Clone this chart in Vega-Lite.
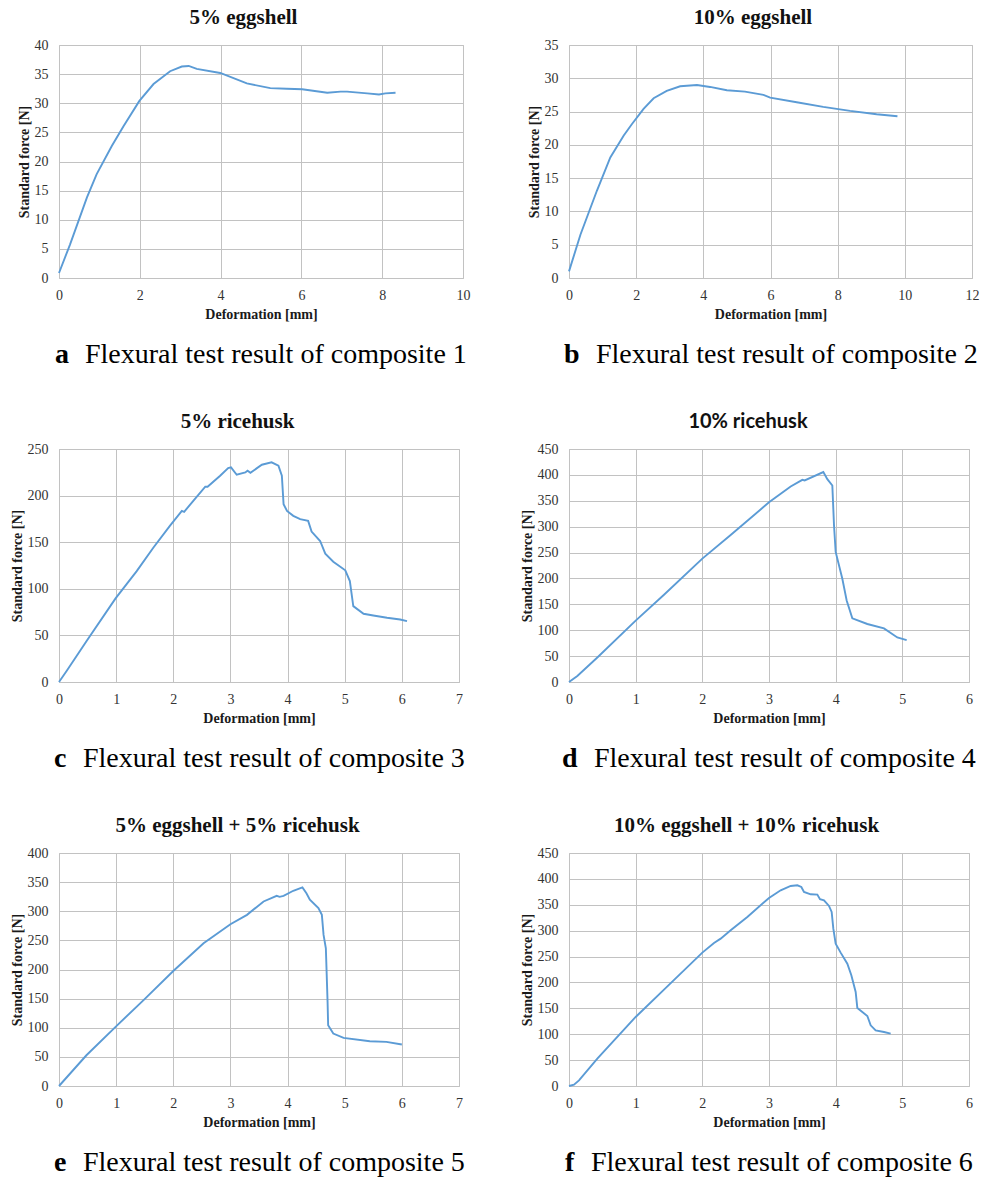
{
  "$schema": "https://vega.github.io/schema/vega-lite/v6.json",
  "background": "white",
  "padding": {"left": 9, "top": 6, "right": 5, "bottom": 5},
  "datasets": {
    "c1": [
      {"deformation": 0, "force": 0.86}, {"deformation": 0.27, "force": 5.7}, {"deformation": 0.69, "force": 13.8},
      {"deformation": 0.93, "force": 17.8}, {"deformation": 1.31, "force": 22.7}, {"deformation": 1.6, "force": 26.1},
      {"deformation": 1.99, "force": 30.4}, {"deformation": 2.34, "force": 33.3}, {"deformation": 2.75, "force": 35.5},
      {"deformation": 3.04, "force": 36.3}, {"deformation": 3.21, "force": 36.4}, {"deformation": 3.41, "force": 35.9},
      {"deformation": 3.99, "force": 35.2}, {"deformation": 4.65, "force": 33.4}, {"deformation": 5.23, "force": 32.6},
      {"deformation": 5.64, "force": 32.5}, {"deformation": 6.02, "force": 32.4}, {"deformation": 6.64, "force": 31.8},
      {"deformation": 6.97, "force": 32.0}, {"deformation": 7.13, "force": 32.0}, {"deformation": 7.63, "force": 31.7},
      {"deformation": 7.92, "force": 31.5}, {"deformation": 8.08, "force": 31.7}, {"deformation": 8.33, "force": 31.8}
    ],
    "c2": [
      {"deformation": 0, "force": 1.0}, {"deformation": 0.34, "force": 6.5}, {"deformation": 0.83, "force": 13.1},
      {"deformation": 1.23, "force": 18.1}, {"deformation": 1.63, "force": 21.4}, {"deformation": 1.87, "force": 23.1},
      {"deformation": 2.22, "force": 25.4}, {"deformation": 2.52, "force": 27.0}, {"deformation": 2.91, "force": 28.1},
      {"deformation": 3.31, "force": 28.8}, {"deformation": 3.81, "force": 29.0}, {"deformation": 4.2, "force": 28.7},
      {"deformation": 4.7, "force": 28.2}, {"deformation": 5.24, "force": 28.0}, {"deformation": 5.79, "force": 27.5},
      {"deformation": 5.99, "force": 27.1}, {"deformation": 6.78, "force": 26.4}, {"deformation": 7.57, "force": 25.7},
      {"deformation": 8.37, "force": 25.1}, {"deformation": 9.16, "force": 24.6}, {"deformation": 9.78, "force": 24.3}
    ],
    "c3": [
      {"deformation": 0, "force": 0}, {"deformation": 0.13, "force": 11.5}, {"deformation": 0.48, "force": 43.8},
      {"deformation": 0.99, "force": 89.7}, {"deformation": 1.36, "force": 119}, {"deformation": 1.65, "force": 144},
      {"deformation": 1.94, "force": 167.5}, {"deformation": 2.15, "force": 183.6}, {"deformation": 2.19, "force": 182.6},
      {"deformation": 2.35, "force": 194.4}, {"deformation": 2.56, "force": 209.5}, {"deformation": 2.6, "force": 209.5},
      {"deformation": 2.82, "force": 221.3}, {"deformation": 2.96, "force": 229.6}, {"deformation": 3.01, "force": 230.3},
      {"deformation": 3.11, "force": 222.4}, {"deformation": 3.26, "force": 224.9}, {"deformation": 3.3, "force": 226.7},
      {"deformation": 3.35, "force": 224.5}, {"deformation": 3.55, "force": 233.1}, {"deformation": 3.72, "force": 235.7},
      {"deformation": 3.84, "force": 232}, {"deformation": 3.9, "force": 221.3}, {"deformation": 3.93, "force": 190.8},
      {"deformation": 3.99, "force": 183.6}, {"deformation": 4.1, "force": 178.3}, {"deformation": 4.22, "force": 174.7},
      {"deformation": 4.36, "force": 172.9}, {"deformation": 4.42, "force": 161.4}, {"deformation": 4.57, "force": 151.3},
      {"deformation": 4.66, "force": 137.7}, {"deformation": 4.8, "force": 129.1}, {"deformation": 5.01, "force": 119.8},
      {"deformation": 5.09, "force": 108.3}, {"deformation": 5.15, "force": 81.4}, {"deformation": 5.33, "force": 73.2},
      {"deformation": 5.5, "force": 71.4}, {"deformation": 5.74, "force": 68.9}, {"deformation": 5.97, "force": 67.1},
      {"deformation": 6.09, "force": 65.3}
    ],
    "c4": [
      {"deformation": 0, "force": 0}, {"deformation": 0.125, "force": 11.7}, {"deformation": 0.425, "force": 47.3},
      {"deformation": 1.0, "force": 118.5}, {"deformation": 1.425, "force": 168.4}, {"deformation": 2.0, "force": 238.3},
      {"deformation": 2.425, "force": 283.7}, {"deformation": 3.0, "force": 347}, {"deformation": 3.325, "force": 377.6},
      {"deformation": 3.5, "force": 390.5}, {"deformation": 3.535, "force": 389.2}, {"deformation": 3.815, "force": 405.4},
      {"deformation": 3.875, "force": 391.8}, {"deformation": 3.95, "force": 379.5}, {"deformation": 3.975, "force": 303},
      {"deformation": 4.0, "force": 251.3}, {"deformation": 4.1, "force": 199.5}, {"deformation": 4.165, "force": 157.4},
      {"deformation": 4.25, "force": 123}, {"deformation": 4.475, "force": 112}, {"deformation": 4.725, "force": 103.6},
      {"deformation": 4.925, "force": 86.1}, {"deformation": 5.065, "force": 81}
    ],
    "c5": [
      {"deformation": 0, "force": 0}, {"deformation": 0.48, "force": 52.8}, {"deformation": 0.99, "force": 101.6},
      {"deformation": 1.48, "force": 147.5}, {"deformation": 2.0, "force": 197.4}, {"deformation": 2.53, "force": 245},
      {"deformation": 3.0, "force": 277.8}, {"deformation": 3.29, "force": 293.8}, {"deformation": 3.58, "force": 316.8},
      {"deformation": 3.81, "force": 326.5}, {"deformation": 3.86, "force": 324.8}, {"deformation": 3.93, "force": 326.5},
      {"deformation": 4.1, "force": 335.2}, {"deformation": 4.26, "force": 341}, {"deformation": 4.33, "force": 331},
      {"deformation": 4.39, "force": 319.7}, {"deformation": 4.54, "force": 305.3}, {"deformation": 4.6, "force": 293.8},
      {"deformation": 4.63, "force": 259.4}, {"deformation": 4.67, "force": 236.4}, {"deformation": 4.7, "force": 144.6},
      {"deformation": 4.71, "force": 104.4}, {"deformation": 4.8, "force": 90.1}, {"deformation": 4.98, "force": 82.6},
      {"deformation": 5.44, "force": 76.9}, {"deformation": 5.73, "force": 75.8}, {"deformation": 6.0, "force": 71.2}
    ],
    "c6": [
      {"deformation": 0, "force": 0}, {"deformation": 0.075, "force": 2.6}, {"deformation": 0.15, "force": 10.9},
      {"deformation": 0.425, "force": 52.8}, {"deformation": 1.0, "force": 133.3}, {"deformation": 1.425, "force": 186.1},
      {"deformation": 2.0, "force": 257.6}, {"deformation": 2.175, "force": 276.2}, {"deformation": 2.275, "force": 284.6},
      {"deformation": 2.425, "force": 300.7}, {"deformation": 2.675, "force": 326.5}, {"deformation": 3.0, "force": 363.2},
      {"deformation": 3.175, "force": 378}, {"deformation": 3.325, "force": 386.3}, {"deformation": 3.425, "force": 387.6},
      {"deformation": 3.485, "force": 384.4}, {"deformation": 3.525, "force": 374.7}, {"deformation": 3.625, "force": 370.2},
      {"deformation": 3.725, "force": 369.6}, {"deformation": 3.765, "force": 360.6}, {"deformation": 3.825, "force": 358.6},
      {"deformation": 3.9, "force": 347.7}, {"deformation": 3.94, "force": 336.1}, {"deformation": 3.965, "force": 303.9},
      {"deformation": 4.0, "force": 274.9}, {"deformation": 4.075, "force": 257.6}, {"deformation": 4.175, "force": 236.3},
      {"deformation": 4.235, "force": 213.8}, {"deformation": 4.3, "force": 181.6}, {"deformation": 4.325, "force": 150.7},
      {"deformation": 4.4, "force": 142.9}, {"deformation": 4.475, "force": 135.2}, {"deformation": 4.525, "force": 117.2},
      {"deformation": 4.6, "force": 107.5}, {"deformation": 4.725, "force": 104.3}, {"deformation": 4.825, "force": 101.1}
    ]
  },
  "columns": 2,
  "spacing": {"row": 40, "column": 48},
  "concat": [
    {
      "width": 404, "height": 233,
      "title": {"text": "5% eggshell"},
      "data": {"name": "c1"},
      "mark": {"type": "line", "strokeWidth": 1.9},
      "encoding": {
        "x": {"field": "deformation", "type": "quantitative", "scale": {"domain": [0, 10], "nice": false}, "axis": {"tickCount": 5, "title": "Deformation [mm]"}},
        "y": {"field": "force", "type": "quantitative", "scale": {"domain": [0, 40], "nice": false}, "axis": {"tickCount": 8, "title": "Standard force [N]"}},
        "color": {"datum": "Flexural test result of composite 1", "type": "nominal", "scale": {"range": ["#5b9bd5"]}, "legend": {"title": "a"}}
      }
    },
    {
      "width": 403, "height": 233,
      "title": {"text": "10% eggshell"},
      "data": {"name": "c2"},
      "mark": {"type": "line", "strokeWidth": 1.9},
      "encoding": {
        "x": {"field": "deformation", "type": "quantitative", "scale": {"domain": [0, 12], "nice": false}, "axis": {"tickCount": 6, "title": "Deformation [mm]"}},
        "y": {"field": "force", "type": "quantitative", "scale": {"domain": [0, 35], "nice": false}, "axis": {"tickCount": 7, "title": "Standard force [N]"}},
        "color": {"datum": "Flexural test result of composite 2", "type": "nominal", "scale": {"range": ["#5b9bd5"]}, "legend": {"title": "b"}}
      }
    },
    {
      "width": 400, "height": 233,
      "title": {"text": "5% ricehusk"},
      "data": {"name": "c3"},
      "mark": {"type": "line", "strokeWidth": 1.9},
      "encoding": {
        "x": {"field": "deformation", "type": "quantitative", "scale": {"domain": [0, 7], "nice": false}, "axis": {"tickCount": 7, "title": "Deformation [mm]"}},
        "y": {"field": "force", "type": "quantitative", "scale": {"domain": [0, 250], "nice": false}, "axis": {"tickCount": 5, "title": "Standard force [N]"}},
        "color": {"datum": "Flexural test result of composite 3", "type": "nominal", "scale": {"range": ["#5b9bd5"]}, "legend": {"title": "c"}}
      }
    },
    {
      "width": 400, "height": 233,
      "title": {"text": "10% ricehusk", "font": "Lato", "fontSize": 20},
      "data": {"name": "c4"},
      "mark": {"type": "line", "strokeWidth": 1.9},
      "encoding": {
        "x": {"field": "deformation", "type": "quantitative", "scale": {"domain": [0, 6], "nice": false}, "axis": {"tickCount": 6, "title": "Deformation [mm]"}},
        "y": {"field": "force", "type": "quantitative", "scale": {"domain": [0, 450], "nice": false}, "axis": {"tickCount": 9, "title": "Standard force [N]"}},
        "color": {"datum": "Flexural test result of composite 4", "type": "nominal", "scale": {"range": ["#5b9bd5"]}, "legend": {"title": "d"}}
      }
    },
    {
      "width": 400, "height": 233,
      "title": {"text": "5% eggshell + 5% ricehusk"},
      "data": {"name": "c5"},
      "mark": {"type": "line", "strokeWidth": 1.9},
      "encoding": {
        "x": {"field": "deformation", "type": "quantitative", "scale": {"domain": [0, 7], "nice": false}, "axis": {"tickCount": 7, "title": "Deformation [mm]"}},
        "y": {"field": "force", "type": "quantitative", "scale": {"domain": [0, 400], "nice": false}, "axis": {"tickCount": 8, "title": "Standard force [N]"}},
        "color": {"datum": "Flexural test result of composite 5", "type": "nominal", "scale": {"range": ["#5b9bd5"]}, "legend": {"title": "e"}}
      }
    },
    {
      "width": 400, "height": 233,
      "title": {"text": "10% eggshell + 10% ricehusk"},
      "data": {"name": "c6"},
      "mark": {"type": "line", "strokeWidth": 1.9},
      "encoding": {
        "x": {"field": "deformation", "type": "quantitative", "scale": {"domain": [0, 6], "nice": false}, "axis": {"tickCount": 6, "title": "Deformation [mm]"}},
        "y": {"field": "force", "type": "quantitative", "scale": {"domain": [0, 450], "nice": false}, "axis": {"tickCount": 9, "title": "Standard force [N]"}},
        "color": {"datum": "Flexural test result of composite 6", "type": "nominal", "scale": {"range": ["#5b9bd5"]}, "legend": {"title": "f"}}
      }
    }
  ],
  "resolve": {"scale": {"color": "independent"}, "legend": {"color": "independent"}},
  "config": {
    "font": "Liberation Serif",
    "view": {"stroke": "#c2c2c2", "strokeWidth": 1},
    "axis": {
      "grid": true, "gridColor": "#c2c2c2", "gridWidth": 1, "domain": false, "ticks": false, "tickSize": 0,
      "labelFont": "Liberation Serif", "labelFontSize": 14, "labelColor": "#333333",
      "titleFont": "Liberation Serif", "titleFontSize": 14, "titleFontWeight": "bold", "titleColor": "#1a1a1a"
    },
    "axisX": {"labelPadding": 10, "titlePadding": 5, "labelFlush": false, "labelFont": "Liberation Serif", "labelFontSize": 14},
    "axisY": {"labelPadding": 11, "titlePadding": 3, "labelFont": "Liberation Serif", "labelFontSize": 14},
    "title": {"font": "Liberation Serif", "fontSize": 21, "fontWeight": "bold", "color": "#111111", "frame": "bounds", "anchor": "middle", "offset": 10},
    "legend": {
      "orient": "bottom", "direction": "horizontal", "titleOrient": "left",
      "titleFont": "Liberation Serif", "titleFontSize": 28, "titleFontWeight": "bold", "titleColor": "#000000",
      "labelFont": "Liberation Serif", "labelFontSize": 28, "labelColor": "#000000",
      "labelLimit": 1000, "titleLimit": 1000,
      "symbolSize": 0, "symbolOpacity": 0, "symbolStrokeWidth": 0,
      "labelOffset": -12, "titlePadding": 0, "offset": 20, "padding": 0,
      "titleAnchor": "middle", "titleBaseline": "middle",
      "layout": {"bottom": {"anchor": "middle"}}
    }
  }
}
